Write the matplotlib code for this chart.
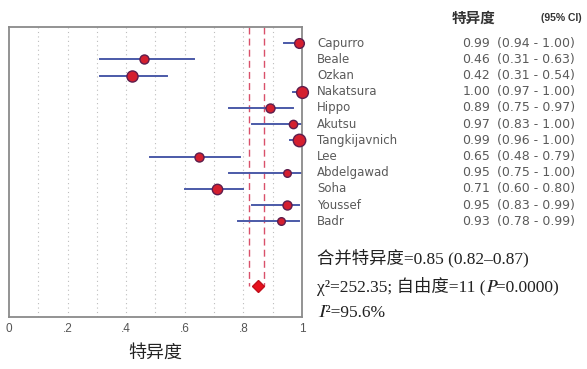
import matplotlib
matplotlib.use("Agg")
import matplotlib.pyplot as plt

# study-level specificity with 95% CI
studies = ["Capurro", "Beale", "Ozkan", "Nakatsura", "Hippo", "Akutsu",
           "Tangkijavnich", "Lee", "Abdelgawad", "Soha", "Youssef", "Badr"]
spec = [0.99, 0.46, 0.42, 1.00, 0.89, 0.97, 0.99, 0.65, 0.95, 0.71, 0.95, 0.93]
ci_lo = [0.94, 0.31, 0.31, 0.97, 0.75, 0.83, 0.96, 0.48, 0.75, 0.60, 0.83, 0.78]
ci_hi = [1.00, 0.63, 0.54, 1.00, 0.97, 1.00, 1.00, 0.79, 1.00, 0.80, 0.99, 0.99]
# marker size ~ study weight
weight_ms = [7, 6.5, 8, 8.5, 6.5, 6, 9, 6.5, 5.5, 7.5, 6.5, 5.5]

pooled = 0.85
pooled_lo, pooled_hi = 0.82, 0.87
chi2, dof, pval, i2 = 252.35, 11, 0.0000, 95.6

xticks = [0, 0.2, 0.4, 0.6, 0.8, 1.0]
xticklabels = ["0", ".2", ".4", ".6", ".8", "1"]

cjk = ["Noto Sans CJK SC", "DejaVu Sans"]
serif = ["Liberation Serif", "Noto Sans CJK SC", "STIXGeneral"]
table_font = "DejaVu Sans"

fig = plt.figure(figsize=(5.87, 3.69), dpi=100)
ax = fig.add_axes([0.0153, 0.141, 0.4992, 0.786])

pooled_row = len(studies) + 3
ax.set_xlim(0, 1)
ax.set_ylim(pooled_row + 1.9, -1)

# dotted guides every 0.1
for g in [0.1 * k for k in range(1, 10)]:
    ax.axvline(g, color="#bdbdbd", lw=0.8, ls=(0, (1, 3)), zorder=0)

# pooled CI as dashed verticals down to the diamond
ax.vlines([pooled_lo, pooled_hi], -1, pooled_row, colors="#d9506a",
          linestyles=(0, (5, 3)), lw=1.0, zorder=1)

for i in range(len(studies)):
    ax.plot([ci_lo[i], ci_hi[i]], [i, i], color="#4b5aa8", lw=1.4, zorder=2)
    ax.plot(spec[i], i, "o", ms=weight_ms[i], mfc="#d41f2f", mec="#5e1d4c",
            mew=1.0, zorder=3, clip_on=False)

ax.plot(pooled, pooled_row, "D", ms=6, mfc="#e8101c", mec="#c0101c", zorder=4)

ax.set_yticks([])
ax.set_xticks(xticks)
ax.set_xticklabels(xticklabels, fontsize=8.5, color="#555555",
                   family="Liberation Sans")
ax.tick_params(axis="x", length=0, pad=4)
for s in ax.spines.values():
    s.set_color("#8a8a8a")
    s.set_linewidth(1.3)
ax.set_xlabel("特异度", fontsize=13, family=cjk, color="#222222", labelpad=7)

# right-hand table
def fy(row):
    return ax.transData.transform((0, row))[1] / fig.bbox.height

fig.text(0.806, 0.952, "特异度", fontsize=10.5, family=cjk, color="#333333",
         weight="bold", va="center", ha="center")
fig.text(0.991, 0.952, "(95% CI)", fontsize=7.5, family="Liberation Sans",
         color="#333333", weight="bold", va="center", ha="right")

for i, name in enumerate(studies):
    y = fy(i)
    fig.text(0.540, y, name, fontsize=8.5, family=table_font,
             color="#5a5a5a", va="center")
    fig.text(0.835, y, f"{spec[i]:.2f}", fontsize=9, family=table_font,
             color="#5a5a5a", va="center", ha="right")
    fig.text(0.846, y, f"({ci_lo[i]:.2f} - {ci_hi[i]:.2f})", fontsize=9,
             family=table_font, color="#5a5a5a", va="center")

fig.text(0.540, 1 - 258 / 369, f"合并特异度={pooled:.2f} ({pooled_lo:.2f}\u2013{pooled_hi:.2f})",
         fontsize=12.5, family=serif, color="#222222", va="center")
fig.text(0.540, 1 - 287 / 369, f"χ²={chi2:.2f}; 自由度={dof} (𝑃={pval:.4f})",
         fontsize=12.5, family=serif, color="#222222", va="center")
fig.text(0.540, 1 - 313 / 369, f"𝐼²={i2:.1f}%",
         fontsize=12.5, family=serif, color="#222222", va="center")

fig.savefig("out.png", dpi=100)
